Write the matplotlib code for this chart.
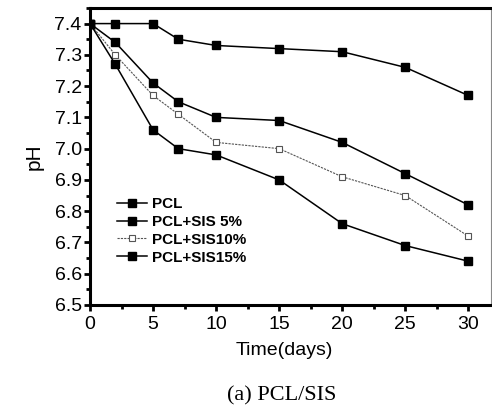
import matplotlib.pyplot as plt
from matplotlib.ticker import MultipleLocator

plt.rcParams['font.family'] = ['Liberation Sans', 'DejaVu Sans']

days = [0, 2, 5, 7, 10, 15, 20, 25, 30]
ph_pcl = [7.40, 7.40, 7.40, 7.35, 7.33, 7.32, 7.31, 7.26, 7.17]
ph_sis5 = [7.40, 7.34, 7.21, 7.15, 7.10, 7.09, 7.02, 6.92, 6.82]
ph_sis10 = [7.40, 7.30, 7.17, 7.11, 7.02, 7.00, 6.91, 6.85, 6.72]
ph_sis15 = [7.40, 7.27, 7.06, 7.00, 6.98, 6.90, 6.76, 6.69, 6.64]

fig = plt.figure(figsize=(4.92, 4.08), dpi=100)
ax = fig.add_axes([0.183, 0.2525, 0.815, 0.728])

ax.plot(days, ph_pcl, color='black', lw=1.1, marker='s', ms=5.2, label='PCL')
ax.plot(days, ph_sis5, color='black', lw=1.1, marker='s', ms=5.2, label='PCL+SIS 5%')
ax.plot(days, ph_sis10, color='#555555', lw=0.8, ls=(0, (2, 1)), marker='s', ms=4.5,
        mfc='white', mec='#555555', mew=0.8, label='PCL+SIS10%')
ax.plot(days, ph_sis15, color='black', lw=1.1, marker='s', ms=5.2, label='PCL+SIS15%')

ax.set_xlim(0, 31.8)
ax.set_ylim(6.5, 7.45)
ax.xaxis.set_major_locator(MultipleLocator(5))
ax.xaxis.set_minor_locator(MultipleLocator(2.5))
ax.yaxis.set_major_locator(MultipleLocator(0.1))
ax.yaxis.set_minor_locator(MultipleLocator(0.05))
ax.yaxis.set_major_formatter(plt.FormatStrFormatter('%.1f'))

ax.tick_params(which='major', direction='out', length=4, width=2, labelsize=14, pad=2)
ax.tick_params(which='minor', direction='out', length=3, width=2)
ax.tick_params(axis='x', pad=4)
for s in ['left', 'bottom', 'top']:
    ax.spines[s].set_linewidth(2.2)
ax.spines['right'].set_linewidth(0.8)
ax.spines['right'].set_color('#888888')

ax.set_ylabel('pH', fontsize=15, labelpad=8)
ax.set_xlabel('Time(days)', fontsize=14, labelpad=7)
ax.xaxis.set_label_coords(0.484, -0.125)

leg = ax.legend(loc='lower left', bbox_to_anchor=(0.04, 0.1), frameon=False,
                prop={'weight': 'bold', 'size': 11}, handlelength=2.0,
                handletextpad=0.3, labelspacing=0.25, borderpad=0.2)

fig.text(0.573, 0.03, '(a) PCL/SIS', ha='center', va='center', fontsize=16,
         family='Liberation Serif')

fig.savefig('out.png', dpi=100)
